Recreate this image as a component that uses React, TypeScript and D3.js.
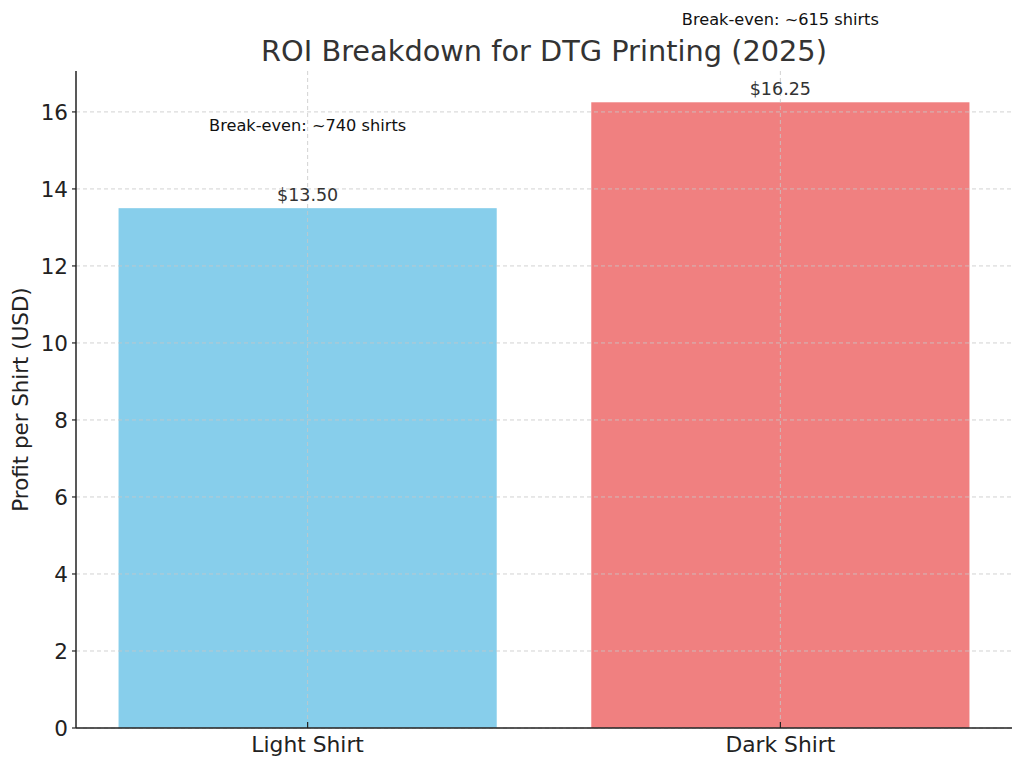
import React from 'react';
import * as d3 from 'd3';

const categories = ['Light Shirt', 'Dark Shirt'];
const profits = [13.5, 16.25];
const breakEven = ['Break-even: ~740 shirts', 'Break-even: ~615 shirts'];
const barColors = ['#87CEEB', '#F08080'];
const yTicks = [0, 2, 4, 6, 8, 10, 12, 14, 16];

const WIDTH = 1024;
const HEIGHT = 769;
const margin = { top: 71, right: 12, bottom: 41, left: 76 };
const FONT = '"DejaVu Sans", sans-serif';

const App: React.FC = () => {
  const x0 = margin.left;
  const x1 = WIDTH - margin.right;
  const y0 = HEIGHT - margin.bottom;
  const y1 = margin.top;

  // matplotlib style: category positions 0..n-1, bar width 0.8, 5% margins
  const barW = 0.8;
  const lo = -barW / 2;
  const hi = categories.length - 1 + barW / 2;
  const pad = (hi - lo) * 0.05;
  const xScale = d3.scaleLinear().domain([lo - pad, hi + pad]).range([x0, x1]);

  const maxV = d3.max(profits) || 0;
  const yScale = d3.scaleLinear().domain([0, maxV * 1.05]).range([y0, y1]);

  const gridColor = '#c8c8c8';

  return (
    <div style={{ position: 'absolute', left: 0, top: 0 }}>
      <svg width={WIDTH} height={HEIGHT} style={{ display: 'block', background: '#fff' }}>
        {/* bars */}
        {profits.map((v, i) => (
          <rect
            key={categories[i]}
            x={xScale(i - barW / 2)}
            y={yScale(v)}
            width={xScale(i + barW / 2) - xScale(i - barW / 2)}
            height={yScale(0) - yScale(v)}
            fill={barColors[i]}
          />
        ))}

        {/* grid lines (drawn over bars) */}
        <g stroke={gridColor} strokeDasharray="4,3" strokeWidth={1} opacity={0.8}>
          {yTicks.map(t => (
            <line key={`h${t}`} x1={x0} x2={x1} y1={yScale(t)} y2={yScale(t)} />
          ))}
          {categories.map((c, i) => (
            <line key={`v${c}`} x1={xScale(i)} x2={xScale(i)} y1={y1} y2={y0} />
          ))}
        </g>

        {/* value labels */}
        {profits.map((v, i) => (
          <text
            key={`val${i}`}
            x={xScale(i)}
            y={yScale(v) - 7}
            textAnchor="middle"
            fontFamily={FONT}
            fontSize={17.5}
            fill="#333"
          >
            {`$${v.toFixed(2)}`}
          </text>
        ))}

        {/* break-even annotations */}
        {profits.map((v, i) => (
          <text
            key={`be${i}`}
            x={xScale(i)}
            y={yScale(v + 2)}
            textAnchor="middle"
            fontFamily={FONT}
            fontSize={16.2}
            fill="#111"
          >
            {breakEven[i]}
          </text>
        ))}

        {/* spines */}
        <line x1={x0} x2={x0} y1={y1} y2={y0} stroke="#222" strokeWidth={1.5} />
        <line x1={x0} x2={x1} y1={y0} y2={y0} stroke="#222" strokeWidth={1.5} />

        {/* y ticks */}
        {yTicks.map(t => (
          <g key={`yt${t}`}>
            <line x1={x0 - 4} x2={x0} y1={yScale(t)} y2={yScale(t)} stroke="#222" strokeWidth={1.2} />
            <text
              x={x0 - 8}
              y={yScale(t)}
              dy="0.36em"
              textAnchor="end"
              fontFamily={FONT}
              fontSize={21.5}
              fill="#222"
            >
              {t}
            </text>
          </g>
        ))}

        {/* x ticks */}
        {categories.map((c, i) => (
          <g key={`xt${c}`}>
            <line x1={xScale(i)} x2={xScale(i)} y1={y0 - 6} y2={y0} stroke="#222" strokeWidth={1.2} />
            <text
              x={xScale(i)}
              y={y0 + 24}
              textAnchor="middle"
              fontFamily={FONT}
              fontSize={21.8}
              fill="#222"
            >
              {c}
            </text>
          </g>
        ))}

        {/* y-axis label */}
        <text
          transform={`translate(28,${(y0 + y1) / 2}) rotate(-90)`}
          textAnchor="middle"
          fontFamily={FONT}
          fontSize={21.4}
          fill="#222"
        >
          Profit per Shirt (USD)
        </text>

        {/* title */}
        <text
          x={(x0 + x1) / 2}
          y={61}
          textAnchor="middle"
          fontFamily={FONT}
          fontSize={28.8}
          fill="#333"
        >
          ROI Breakdown for DTG Printing (2025)
        </text>
      </svg>
    </div>
  );
};

export default App;
